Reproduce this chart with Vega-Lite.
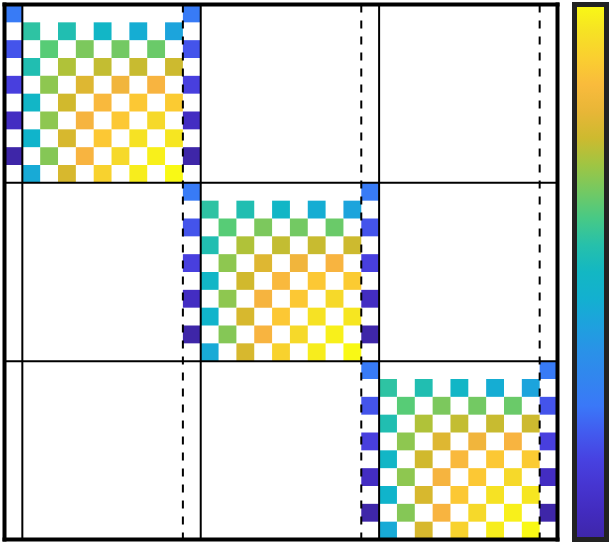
{
  "$schema": "https://vega.github.io/schema/vega-lite/v6.json",
  "autosize": {"type": "none"},
  "width": 553,
  "height": 535,
  "padding": {"left": 4.5, "top": 4.5, "right": 53.5, "bottom": 4.5},
  "background": "white",
  "config": {"view": {"stroke": null}},
  "datasets": {
    "cells": [
      {"r":0,"c":0,"v":0.26},{"r":0,"c":10,"v":0.26},
      {"r":1,"c":1,"v":0.565},{"r":1,"c":3,"v":0.54},{"r":1,"c":5,"v":0.49},{"r":1,"c":7,"v":0.44},{"r":1,"c":9,"v":0.41},
      {"r":2,"c":0,"v":0.185},{"r":2,"c":2,"v":0.62},{"r":2,"c":4,"v":0.66},{"r":2,"c":6,"v":0.65},{"r":2,"c":8,"v":0.64},{"r":2,"c":10,"v":0.185},
      {"r":3,"c":1,"v":0.54},{"r":3,"c":3,"v":0.72},{"r":3,"c":5,"v":0.74},{"r":3,"c":7,"v":0.745},{"r":3,"c":9,"v":0.75},
      {"r":4,"c":0,"v":0.14},{"r":4,"c":2,"v":0.68},{"r":4,"c":4,"v":0.78},{"r":4,"c":6,"v":0.82},{"r":4,"c":8,"v":0.835},{"r":4,"c":10,"v":0.14},
      {"r":5,"c":1,"v":0.49},{"r":5,"c":3,"v":0.755},{"r":5,"c":5,"v":0.845},{"r":5,"c":7,"v":0.88},{"r":5,"c":9,"v":0.89},
      {"r":6,"c":0,"v":0.06},{"r":6,"c":2,"v":0.68},{"r":6,"c":4,"v":0.83},{"r":6,"c":6,"v":0.88},{"r":6,"c":8,"v":0.93},{"r":6,"c":10,"v":0.06},
      {"r":7,"c":1,"v":0.47},{"r":7,"c":3,"v":0.765},{"r":7,"c":5,"v":0.88},{"r":7,"c":7,"v":0.95},{"r":7,"c":9,"v":0.96},
      {"r":8,"c":0,"v":0.0},{"r":8,"c":2,"v":0.67},{"r":8,"c":4,"v":0.835},{"r":8,"c":6,"v":0.93},{"r":8,"c":8,"v":0.98},{"r":8,"c":10,"v":0.0},
      {"r":9,"c":1,"v":0.43},{"r":9,"c":3,"v":0.765},{"r":9,"c":5,"v":0.91},{"r":9,"c":7,"v":0.975},{"r":9,"c":9,"v":1.0},

      {"r":10,"c":10,"v":0.26},{"r":10,"c":20,"v":0.26},
      {"r":11,"c":11,"v":0.565},{"r":11,"c":13,"v":0.54},{"r":11,"c":15,"v":0.49},{"r":11,"c":17,"v":0.44},{"r":11,"c":19,"v":0.41},
      {"r":12,"c":10,"v":0.185},{"r":12,"c":12,"v":0.62},{"r":12,"c":14,"v":0.66},{"r":12,"c":16,"v":0.65},{"r":12,"c":18,"v":0.64},{"r":12,"c":20,"v":0.185},
      {"r":13,"c":11,"v":0.54},{"r":13,"c":13,"v":0.72},{"r":13,"c":15,"v":0.74},{"r":13,"c":17,"v":0.745},{"r":13,"c":19,"v":0.75},
      {"r":14,"c":10,"v":0.14},{"r":14,"c":12,"v":0.68},{"r":14,"c":14,"v":0.78},{"r":14,"c":16,"v":0.82},{"r":14,"c":18,"v":0.835},{"r":14,"c":20,"v":0.14},
      {"r":15,"c":11,"v":0.49},{"r":15,"c":13,"v":0.755},{"r":15,"c":15,"v":0.845},{"r":15,"c":17,"v":0.88},{"r":15,"c":19,"v":0.89},
      {"r":16,"c":10,"v":0.06},{"r":16,"c":12,"v":0.68},{"r":16,"c":14,"v":0.83},{"r":16,"c":16,"v":0.88},{"r":16,"c":18,"v":0.93},{"r":16,"c":20,"v":0.06},
      {"r":17,"c":11,"v":0.47},{"r":17,"c":13,"v":0.765},{"r":17,"c":15,"v":0.88},{"r":17,"c":17,"v":0.95},{"r":17,"c":19,"v":0.96},
      {"r":18,"c":10,"v":0.0},{"r":18,"c":12,"v":0.67},{"r":18,"c":14,"v":0.835},{"r":18,"c":16,"v":0.93},{"r":18,"c":18,"v":0.98},{"r":18,"c":20,"v":0.0},
      {"r":19,"c":11,"v":0.43},{"r":19,"c":13,"v":0.765},{"r":19,"c":15,"v":0.91},{"r":19,"c":17,"v":0.975},{"r":19,"c":19,"v":1.0},

      {"r":20,"c":20,"v":0.26},{"r":20,"c":30,"v":0.26},
      {"r":21,"c":21,"v":0.565},{"r":21,"c":23,"v":0.54},{"r":21,"c":25,"v":0.49},{"r":21,"c":27,"v":0.44},{"r":21,"c":29,"v":0.41},
      {"r":22,"c":20,"v":0.185},{"r":22,"c":22,"v":0.62},{"r":22,"c":24,"v":0.66},{"r":22,"c":26,"v":0.65},{"r":22,"c":28,"v":0.64},{"r":22,"c":30,"v":0.185},
      {"r":23,"c":21,"v":0.54},{"r":23,"c":23,"v":0.72},{"r":23,"c":25,"v":0.74},{"r":23,"c":27,"v":0.745},{"r":23,"c":29,"v":0.75},
      {"r":24,"c":20,"v":0.14},{"r":24,"c":22,"v":0.68},{"r":24,"c":24,"v":0.78},{"r":24,"c":26,"v":0.82},{"r":24,"c":28,"v":0.835},{"r":24,"c":30,"v":0.14},
      {"r":25,"c":21,"v":0.49},{"r":25,"c":23,"v":0.755},{"r":25,"c":25,"v":0.845},{"r":25,"c":27,"v":0.88},{"r":25,"c":29,"v":0.89},
      {"r":26,"c":20,"v":0.06},{"r":26,"c":22,"v":0.68},{"r":26,"c":24,"v":0.83},{"r":26,"c":26,"v":0.88},{"r":26,"c":28,"v":0.93},{"r":26,"c":30,"v":0.06},
      {"r":27,"c":21,"v":0.47},{"r":27,"c":23,"v":0.765},{"r":27,"c":25,"v":0.88},{"r":27,"c":27,"v":0.95},{"r":27,"c":29,"v":0.96},
      {"r":28,"c":20,"v":0.0},{"r":28,"c":22,"v":0.67},{"r":28,"c":24,"v":0.835},{"r":28,"c":26,"v":0.93},{"r":28,"c":28,"v":0.98},{"r":28,"c":30,"v":0.0},
      {"r":29,"c":21,"v":0.43},{"r":29,"c":23,"v":0.765},{"r":29,"c":25,"v":0.91},{"r":29,"c":27,"v":0.975},{"r":29,"c":29,"v":1.0}
    ],
    "solidV": [{"c": 1}, {"c": 11}, {"c": 21}],
    "dashedV": [{"c": 10}, {"c": 20}, {"c": 30}],
    "solidH": [{"r": 10}, {"r": 20}],
    "frameLeft": [{"c": 0}],
    "frameRight": [{"c": 30}],
    "frameTop": [{"r": 0}],
    "frameBottom": [{"r": 29}]
  },
  "layer": [
    {
      "data": {"name": "cells"},
      "mark": {"type": "rect"},
      "encoding": {
        "x": {"field": "c", "type": "ordinal", "axis": null,
              "scale": {"domain": [0,1,2,3,4,5,6,7,8,9,10,11,12,13,14,15,16,17,18,19,20,21,22,23,24,25,26,27,28,29,30], "paddingInner": 0, "paddingOuter": 0}},
        "y": {"field": "r", "type": "ordinal", "axis": null,
              "scale": {"domain": [0,1,2,3,4,5,6,7,8,9,10,11,12,13,14,15,16,17,18,19,20,21,22,23,24,25,26,27,28,29], "paddingInner": 0, "paddingOuter": 0}},
        "color": {
          "field": "v", "type": "quantitative",
          "scale": {
            "domain": [0, 0.032, 0.089, 0.145, 0.202, 0.249, 0.296, 0.353, 0.409, 0.466, 0.513, 0.57, 0.617, 0.664, 0.711, 0.758, 0.834, 0.881, 0.938, 1],
            "range": ["#3e26a8", "#4028b8", "#4632cc", "#4840e0", "#425cf0", "#3a78f8", "#3384f0", "#2a92e8", "#1ca4dc", "#10b4cc", "#14b8c0", "#30c4a0", "#54cc78", "#80c85a", "#a8c43c", "#d4b82c", "#f8b440", "#fcc834", "#f5dc28", "#f9f915"],
            "interpolate": "rgb"
          },
          "legend": {
            "orient": "none", "legendX": 570, "legendY": 0,
            "direction": "vertical", "title": null,
            "gradientLength": 535, "gradientThickness": 32,
            "gradientStrokeColor": "#222222", "gradientStrokeWidth": 5,
            "labelOpacity": 0, "labelFontSize": 1, "labelOffset": 0
          }
        }
      }
    },
    {
      "data": {"name": "solidV"},
      "mark": {"type": "rule", "color": "black", "strokeWidth": 2},
      "encoding": {"x": {"field": "c", "type": "ordinal", "bandPosition": 0}}
    },
    {
      "data": {"name": "dashedV"},
      "mark": {"type": "rule", "color": "black", "strokeWidth": 2, "strokeDash": [8, 8]},
      "encoding": {"x": {"field": "c", "type": "ordinal", "bandPosition": 0}}
    },
    {
      "data": {"name": "solidH"},
      "mark": {"type": "rule", "color": "black", "strokeWidth": 2},
      "encoding": {"y": {"field": "r", "type": "ordinal", "bandPosition": 0}}
    },
    {
      "data": {"name": "frameLeft"},
      "mark": {"type": "rule", "color": "black", "strokeWidth": 4, "strokeCap": "square"},
      "encoding": {"x": {"field": "c", "type": "ordinal", "bandPosition": 0}}
    },
    {
      "data": {"name": "frameRight"},
      "mark": {"type": "rule", "color": "black", "strokeWidth": 4, "strokeCap": "square"},
      "encoding": {"x": {"field": "c", "type": "ordinal", "bandPosition": 1}}
    },
    {
      "data": {"name": "frameTop"},
      "mark": {"type": "rule", "color": "black", "strokeWidth": 4, "strokeCap": "square"},
      "encoding": {"y": {"field": "r", "type": "ordinal", "bandPosition": 0}}
    },
    {
      "data": {"name": "frameBottom"},
      "mark": {"type": "rule", "color": "black", "strokeWidth": 4, "strokeCap": "square"},
      "encoding": {"y": {"field": "r", "type": "ordinal", "bandPosition": 1}}
    }
  ]
}
